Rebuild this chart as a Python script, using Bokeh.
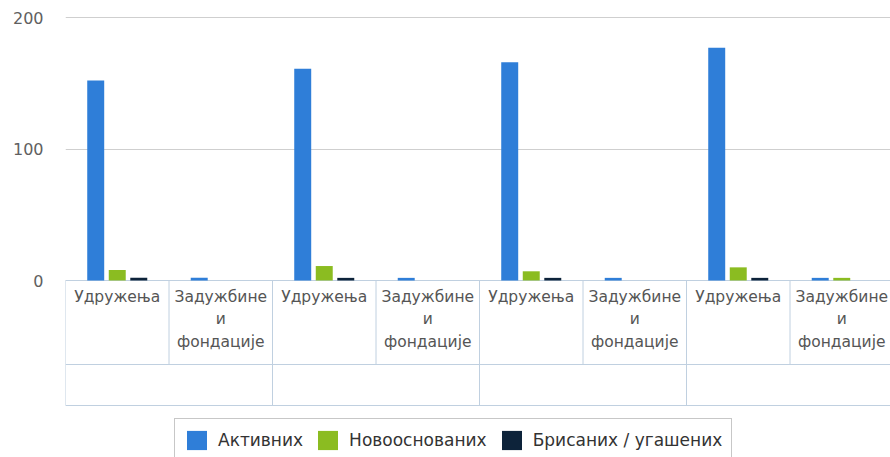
from bokeh.plotting import figure
from bokeh.models import Range1d, FixedTicker, Legend, LegendItem, ColumnDataSource
from bokeh.core.properties import value
from bokeh.embed import file_html
from bokeh.resources import INLINE

# ---------------- data ----------------
groups = ["", "", "", ""]                      # outer (empty) category labels
subcategories = ["Удружења", "Задужбине\nи\nфондације"]
series_names = ["Активних", "Новооснованих", "Брисаних / угашених"]
series_colors = ["#2f7ed8", "#8bbc21", "#0d233a"]
active = [152, 2, 161, 2, 166, 2, 177, 2]
new_founded = [8, 0, 11, 0, 7, 0, 10, 2]
deleted = [2, 0, 2, 0, 2, 0, 2, 0]
y_ticks = [0, 100, 200]

series_values = [active, new_founded, deleted]
n_cat = len(groups) * len(subcategories)

# ---------------- layout constants ----------------
W, H = 890, 457
left_border = 65
top_border = 10
px_per_unit = 1.315
frame_h = H - top_border
y_end = 200 + 7 / px_per_unit
y_start = y_end - frame_h / px_per_unit
cat_px = 103.5
x_end = (W - left_border) / cat_px

row1 = -(84 / px_per_unit)
row2 = -(125 / px_per_unit)

p = figure(width=W, height=H, output_backend="svg", toolbar_location=None,
           x_range=Range1d(0, x_end), y_range=Range1d(y_start, y_end),
           min_border_left=left_border, min_border_right=0,
           min_border_top=top_border, min_border_bottom=0)
p.xaxis.visible = False
p.xgrid.visible = False
p.outline_line_color = None
p.background_fill_color = "white"
p.border_fill_color = "white"

ax = p.yaxis[0]
ax.ticker = FixedTicker(ticks=y_ticks)
ax.axis_line_color = None
ax.major_tick_line_color = None
ax.minor_tick_line_color = None
ax.major_label_standoff = 16
ax.major_label_text_font = "DejaVu Sans"
ax.major_label_text_font_size = "16px"
ax.major_label_text_color = "#606060"
p.ygrid.ticker = FixedTicker(ticks=y_ticks)
p.ygrid.grid_line_color = "#cfcfcf"
p.ygrid.grid_line_width = 1

# ---------------- category table ----------------
line_color = "#c0d0e0"
xs0, ys0, xs1, ys1 = [], [], [], []
for yy in [0, row1, row2]:
    xs0.append(0); xs1.append(n_cat); ys0.append(yy); ys1.append(yy)
for c in range(n_cat + 1):
    xs0.append(c); xs1.append(c); ys0.append(0); ys1.append(row1)
for g in range(len(groups) + 1):
    xc = g * len(subcategories)
    xs0.append(xc); xs1.append(xc); ys0.append(row1); ys1.append(row2)
p.segment(x0=xs0, y0=ys0, x1=xs1, y1=ys1, line_color=line_color, line_width=1)

cat_x = [c + 0.5 for c in range(n_cat)]
cat_labels = [subcategories[c % len(subcategories)] for c in range(n_cat)]
p.text(x=cat_x, y=[0] * n_cat, text=cat_labels, y_offset=7,
       text_align="center", text_baseline="top",
       text_font=value("DejaVu Sans"), text_font_size="15.5px",
       text_color="#555555", text_line_height=1.25)

grp_x = [g * len(subcategories) + len(subcategories) / 2 for g in range(len(groups))]
p.text(x=grp_x, y=[row1] * len(groups), text=groups, y_offset=8,
       text_align="center", text_baseline="top",
       text_font=value("DejaVu Sans"), text_font_size="15.5px", text_color="#555555")

# ---------------- bars ----------------
bar_w = 0.164
step = 0.208
renderers = []
for s, (vals, col) in enumerate(zip(series_values, series_colors)):
    src = ColumnDataSource(dict(x=[c + 0.5 + (s - 1) * step for c in range(n_cat)], top=vals))
    r = p.vbar(x="x", top="top", bottom=0, width=bar_w, source=src,
               fill_color=col, line_color=None)
    renderers.append(r)

legend = Legend(items=[LegendItem(label=n, renderers=[r]) for n, r in zip(series_names, renderers)],
                orientation="horizontal", location=(109, -5))
legend.label_text_font = "DejaVu Sans"
legend.label_text_font_size = "17px"
legend.label_text_color = "#333333"
legend.glyph_width = 25
legend.glyph_height = 24
legend.label_standoff = 9
legend.spacing = 12
legend.padding = 9
legend.margin = 0
legend.border_line_color = "#909090"
legend.border_line_width = 1
legend.background_fill_color = "white"
legend.background_fill_alpha = 1
p.add_layout(legend, "center")

open("out.html", "w").write(file_html(p, INLINE))
